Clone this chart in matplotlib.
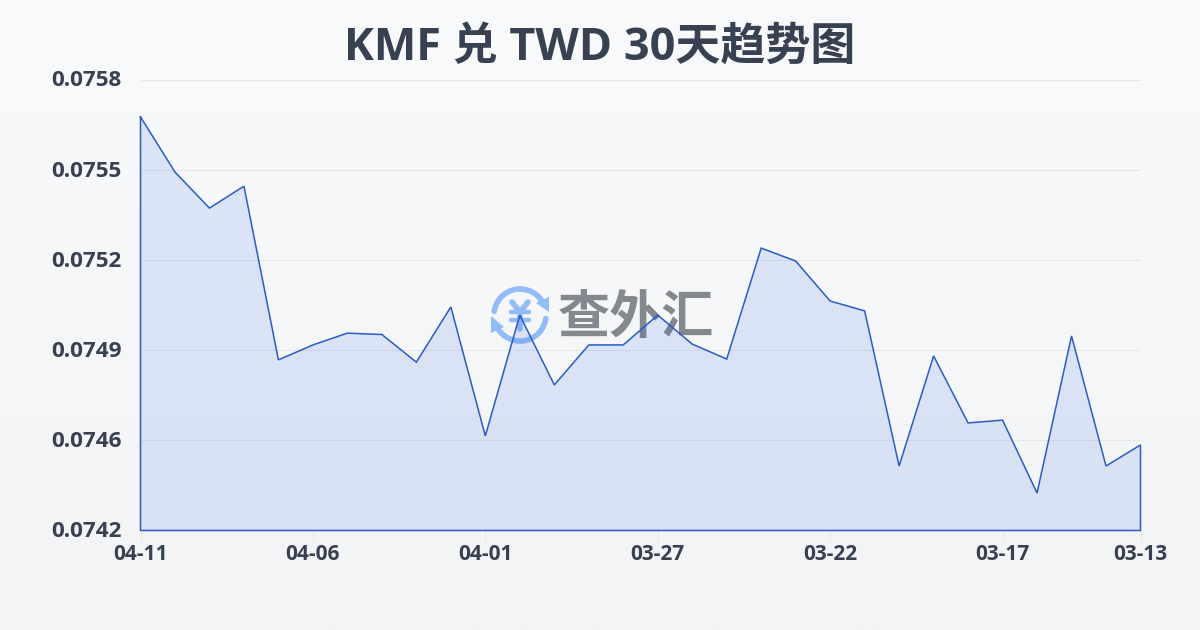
import numpy as np
import matplotlib
matplotlib.use('Agg')
import matplotlib.pyplot as plt
from matplotlib.patches import Arc, Polygon
from matplotlib.transforms import ScaledTranslation

plt.rcParams['font.family'] = ['Open Sans', 'Noto Sans CJK SC', 'DejaVu Sans']

title = 'KMF 兑 TWD 30天趋势图'
watermark = '查外汇'
dates = ['04-11', '04-06', '04-01', '03-27', '03-22', '03-17', '03-13']
date_pos = [0, 5, 10, 15, 20, 25, 29]
y_ticks = [0.0742, 0.07452, 0.07484, 0.07516, 0.07548, 0.0758]
y_labels = ['0.0742', '0.0746', '0.0749', '0.0752', '0.0755', '0.0758']
rates = [0.075669, 0.075473, 0.075345, 0.075423, 0.074806, 0.074859,
         0.074901, 0.074896, 0.074798, 0.074994, 0.074536, 0.074965,
         0.074717, 0.074859, 0.074859, 0.074965, 0.074862, 0.074809,
         0.075203, 0.075157, 0.075015, 0.074980, 0.074429, 0.074820,
         0.074582, 0.074592, 0.074333, 0.074891, 0.074429, 0.074504]

W, H = 1200, 630
fig = plt.figure(figsize=(W / 100, H / 100), dpi=100)

# background gradient
bg = fig.add_axes([0, 0, 1, 1], zorder=0)
grad = np.linspace(0, 1, 256).reshape(-1, 1)
top = np.array([249, 250, 251]) / 255
bottom = np.array([243, 244, 246]) / 255
bg.imshow(top + grad[:, :, None] * (bottom - top), aspect='auto', extent=[0, W, H, 0])
bg.set_xlim(0, W)
bg.set_ylim(H, 0)
bg.axis('off')

# watermark logo, pixel coords
logo = '#93bbf8'
cx, cy, r = 520, 315, 26
bg.add_patch(Arc((cx, cy), 2 * r, 2 * r, theta1=188, theta2=335, color=logo, lw=4, capstyle='round'))
bg.add_patch(Arc((cx, cy), 2 * r, 2 * r, theta1=8, theta2=155, color=logo, lw=4, capstyle='round'))
bg.add_patch(Polygon([[536, 303], [549, 297], [549, 312]], color=logo, lw=0))
bg.add_patch(Polygon([[504, 327], [491, 316], [491, 333]], color=logo, lw=0))
bg.plot([512, 520, 528], [302, 312, 302], color=logo, lw=4, solid_capstyle='round')
bg.plot([520, 520], [312, 329], color=logo, lw=4, solid_capstyle='round')
bg.plot([511, 529], [312, 312], color=logo, lw=3.2, solid_capstyle='round')
bg.plot([511, 529], [320, 320], color=logo, lw=3.2, solid_capstyle='round')
bg.text(636, 318, watermark, fontsize=37.5, fontweight='bold', color='#85888f',
        ha='center', va='center', family='Noto Sans CJK SC')

bg.text(600, 48, title, fontsize=32.4, fontweight='bold', color='#374151',
        ha='center', va='center')

ax = fig.add_axes([140.5 / W, 1 - 530.5 / H, 1000 / W, 450.5 / H], zorder=1)
ax.patch.set_alpha(0)
x = np.arange(len(rates))
ax.fill_between(x, rates, 0.0742, facecolor=(37 / 255, 99 / 255, 235 / 255, 0.13),
                edgecolor='none', zorder=2)
ax.plot(np.r_[x, x[::-1][0], 0, 0], np.r_[rates, 0.0742, 0.0742, rates[0]],
        color='#2a5cc4', lw=1.1, solid_joinstyle='miter', zorder=3, clip_on=False)

ax.set_xlim(0, 29)
ax.set_ylim(0.0742, 0.0758)
ax.set_yticks(y_ticks)
ax.set_yticklabels(y_labels)
ax.set_xticks(date_pos)
ax.set_xticklabels(dates)
ax.grid(axis='y', color='#e5e7eb', lw=0.8)
ax.set_axisbelow(True)
for s in ax.spines.values():
    s.set_visible(False)
ax.tick_params(axis='y', length=0, pad=13.5, labelsize=16.2, labelcolor='#374151')
ax.tick_params(axis='x', length=7, width=0.8, color='#e5e7eb', pad=3, labelsize=15,
               labelcolor='#374151')
for t in ax.get_xticklabels() + ax.get_yticklabels():
    t.set_fontweight('bold')
# y labels sit a bit above their grid lines
shift = ScaledTranslation(0, 1.5 / 100, fig.dpi_scale_trans)
for t in ax.get_yticklabels():
    t.set_transform(t.get_transform() + shift)

fig.savefig('out.png', dpi=100)
